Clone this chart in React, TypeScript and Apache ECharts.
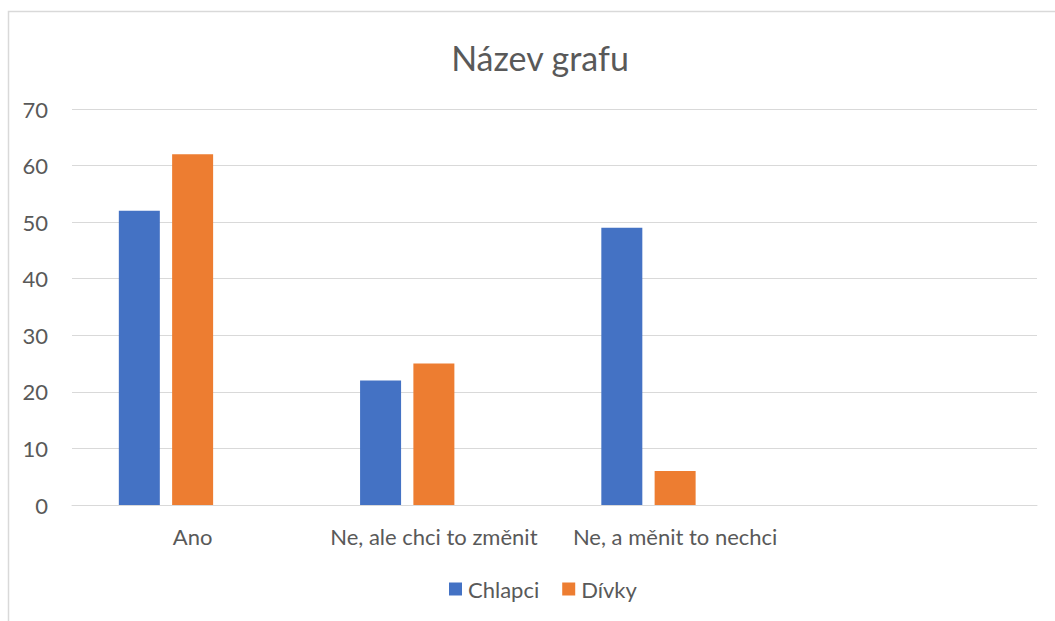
import React, { useEffect, useRef } from "react";
import * as echarts from "echarts";

const categories = ["Ano", "Ne, ale chci to změnit", "Ne, a měnit to nechci", ""];
const chlapci = [52, 22, 49, null];
const divky = [62, 25, 6, null];
const empty = [null, null, null, null];
const seriesNames = ["Chlapci", "Dívky"];
const title = "Název grafu";

const FONT = "Lato, 'Open Sans', sans-serif";
const TEXT = "#595959";

export default function App() {
  const ref = useRef<HTMLDivElement>(null);
  useEffect(() => {
    const chart = echarts.init(ref.current!, null, { renderer: "svg" });
    chart.setOption({
      animation: false,
      backgroundColor: "#ffffff",
      textStyle: { fontFamily: FONT },
      title: {
        text: title,
        left: 535,
        top: 35,
        textAlign: "center",
        textStyle: { fontFamily: FONT, fontSize: 34, fontWeight: "normal", color: TEXT },
      },
      graphic: [
        {
          type: "rect",
          shape: { x: 8.5, y: 11.5, width: 1060, height: 700 },
          style: { fill: "none", stroke: "#d9d9d9", lineWidth: 1.5 },
          silent: true,
          z: -1,
        },
      ],
      legend: {
        data: seriesNames,
        left: 444,
        top: 573,
        itemWidth: 13,
        itemHeight: 13,
        itemGap: 23,
        icon: "rect",
        textStyle: { fontFamily: FONT, fontSize: 22, color: TEXT, padding: [0, 0, 0, 1] },
      },
      grid: { left: 72, right: 18, top: 109, bottom: 116, containLabel: false },
      xAxis: {
        type: "category",
        data: categories,
        axisLine: { lineStyle: { color: "#d9d9d9", width: 1 } },
        axisTick: { show: false },
        axisLabel: { color: TEXT, fontFamily: FONT, fontSize: 22, margin: 20, interval: 0 },
      },
      yAxis: {
        type: "value",
        min: 0,
        max: 70,
        interval: 10,
        axisLine: { show: false },
        axisTick: { show: false },
        splitLine: { lineStyle: { color: "#d9d9d9", width: 1 } },
        axisLabel: { color: TEXT, fontFamily: FONT, fontSize: 22, margin: 24 },
      },
      series: [
        { name: seriesNames[0], type: "bar", data: chlapci, barWidth: 41, barGap: "30%", itemStyle: { color: "#4472C4" } },
        { name: seriesNames[1], type: "bar", data: divky, barWidth: 41, barGap: "30%", itemStyle: { color: "#ED7D31" } },
        { name: "_empty", type: "bar", data: empty, barWidth: 41, barGap: "30%", itemStyle: { color: "#A5A5A5" } },
      ],
    });
    return () => chart.dispose();
  }, []);
  return (
    <div
      ref={ref}
      style={{ position: "fixed", left: 0, top: 0, width: 1055, height: 621 }}
    />
  );
}
